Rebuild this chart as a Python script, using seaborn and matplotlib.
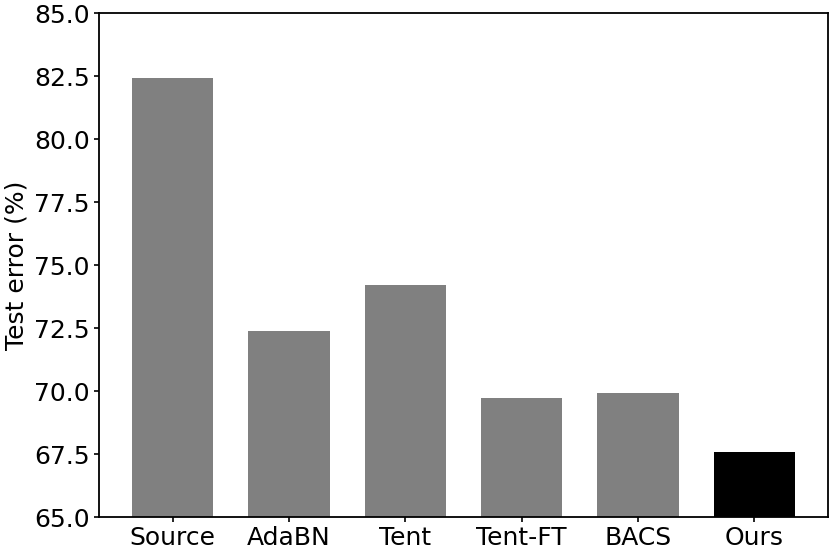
import matplotlib
matplotlib.use("Agg")
import matplotlib.pyplot as plt
import seaborn as sns
import pandas as pd

# Data
methods = ["Source", "AdaBN", "Tent", "Tent-FT", "BACS", "Ours"]
test_error = [82.42, 72.39, 74.21, 69.71, 69.91, 67.59]
bar_colors = ["#808080", "#808080", "#808080", "#808080", "#808080", "#000000"]

df = pd.DataFrame({"Method": methods, "Error": test_error})

sns.set_style("ticks")
plt.rcParams['font.family'] = ['DejaVu Sans']
plt.rcParams['text.color'] = 'black'
plt.rcParams['axes.labelcolor'] = 'black'
plt.rcParams['xtick.color'] = 'black'
plt.rcParams['ytick.color'] = 'black'

fig = plt.figure(figsize=(8.3, 5.49), dpi=100)
ax = fig.add_axes([0.119, 0.058, 0.879, 0.918])

sns.barplot(data=df, x="Method", y="Error", hue="Method", palette=bar_colors,
            width=0.7, saturation=1, legend=False, ax=ax, edgecolor="none")

ax.set_ylim(65, 85)
ax.set_yticks([65, 67.5, 70, 72.5, 75, 77.5, 80, 82.5, 85])
ax.set_yticklabels(["65.0", "67.5", "70.0", "72.5", "75.0", "77.5", "80.0", "82.5", "85.0"])
ax.set_xlim(-0.635, 5.635)
ax.set_xlabel("")
ax.set_ylabel("Test error (%)", fontsize=18, labelpad=4)
ax.tick_params(axis="both", labelsize=18, length=3.5, color="black", width=1.2, pad=3)
for s in ax.spines.values():
    s.set_visible(True)
    s.set_color("black")
    s.set_linewidth(1.3)

fig.savefig("out.png", dpi=100)
